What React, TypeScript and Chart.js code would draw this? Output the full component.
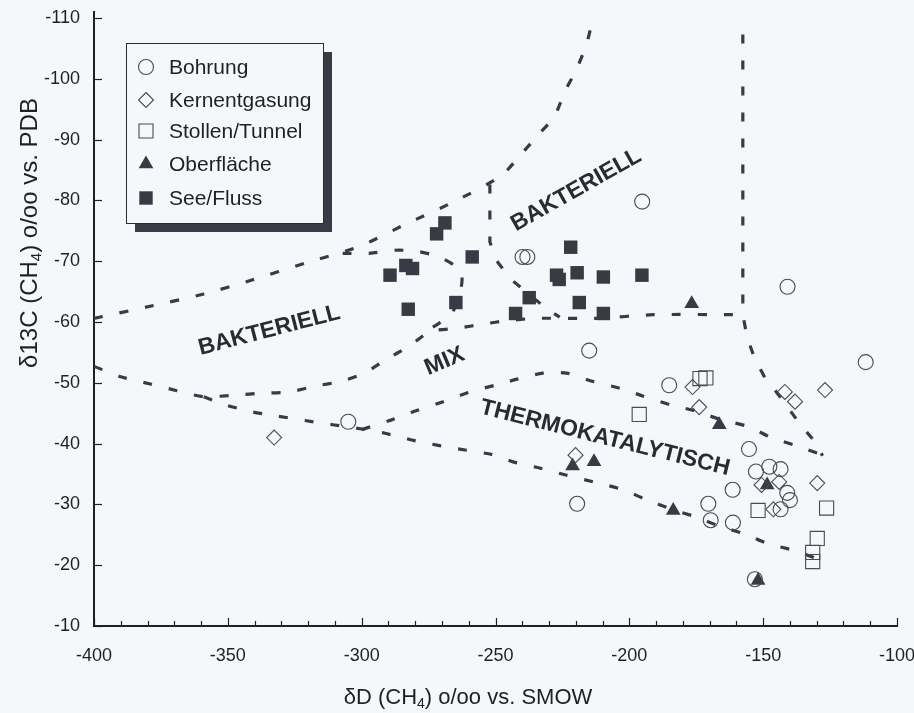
import React, { useEffect, useRef } from "react";
import { Chart, registerables } from "chart.js";

Chart.register(...registerables);

// ---------- axis ranges & ticks ----------
const X_MIN = -400;
const X_MAX = -100;
const Y_MIN = -110;
const Y_MAX = -10;
const X_STEP = 50;
const Y_STEP = 10;
const X_MINOR_STEP = 10;

// ---------- series ----------
const seriesNames = ["Bohrung", "Kernentgasung", "Stollen/Tunnel", "Oberfläche", "See/Fluss"];

const bohrung: [number, number][] = [
  [-195.2, -79.8], [-239.9, -70.7], [-238.1, -70.7], [-140.9, -65.8], [-111.7, -53.4],
  [-215.0, -55.3], [-185.1, -49.6], [-155.3, -39.1], [-152.7, -35.4], [-147.7, -36.2],
  [-143.5, -35.8], [-141.0, -31.9], [-140.0, -30.7], [-143.5, -29.2], [-161.4, -32.4],
  [-170.5, -30.1], [-169.6, -27.4], [-161.3, -27.0], [-219.5, -30.1], [-305.0, -43.6],
  [-153.1, -17.7],
];

const kernentgasung: [number, number][] = [
  [-332.7, -41.0], [-220.1, -38.1], [-176.4, -49.3], [-173.9, -46.0], [-141.9, -48.5],
  [-138.1, -46.9], [-126.9, -48.8], [-129.8, -33.5], [-150.6, -33.2], [-144.0, -33.7],
  [-146.2, -29.2],
];

const stollenTunnel: [number, number][] = [
  [-196.3, -44.8], [-173.6, -50.7], [-171.4, -50.8], [-151.9, -29.0], [-126.3, -29.4],
  [-129.8, -24.4], [-131.5, -22.1], [-131.5, -20.6],
];

const oberflaeche: [number, number][] = [
  [-176.7, -63.0], [-166.4, -43.1], [-221.2, -36.3], [-213.2, -37.0], [-183.6, -29.0],
  [-148.5, -33.2], [-151.9, -17.5],
];

const seeFluss: [number, number][] = [
  [-268.9, -76.3], [-272.0, -74.5], [-258.7, -70.7], [-283.5, -69.3], [-281.0, -68.8],
  [-289.4, -67.7], [-282.6, -62.1], [-264.8, -63.2], [-237.4, -64.0], [-242.5, -61.4],
  [-221.9, -72.3], [-227.2, -67.7], [-226.2, -67.0], [-219.5, -68.1], [-209.7, -67.4],
  [-195.3, -67.7], [-218.7, -63.2], [-209.7, -61.4],
];

// ---------- field boundaries (dashed) ----------
const bacterialUpper: [number, number][] = [
  [-400, -60.6], [-380, -62.5], [-359, -64.6], [-341, -66.9], [-321, -69.7], [-301, -72.4],
  [-284, -76], [-265, -79.9], [-248, -84], [-241, -87.3], [-234, -90.8], [-228, -93.8],
  [-224, -98], [-220, -101.3], [-216, -105.7], [-214, -109.2],
];

const bacterialDivider: [number, number][] = [
  [-252.1, -82.6], [-252.1, -73.2], [-249.8, -70.2], [-244.2, -67], [-230.4, -62], [-226, -60.8],
];

const innerLoop: [number, number][] = [
  [-307.1, -71.3], [-297.2, -71.3], [-287.6, -71.8], [-279.0, -71.6], [-270.1, -70.5],
  [-263.0, -68.3], [-263.0, -65.3], [-266.4, -61.4], [-273.9, -59.0],
];

const mixUpper: [number, number][] = [
  [-400, -52.7], [-390, -51], [-379, -49.8], [-369, -48.7], [-359, -47.7], [-347, -48],
  [-337, -48.3], [-327, -48.5], [-317, -49.5], [-308, -50.2], [-299, -51.6], [-291, -53.8],
  [-282, -56.1], [-274.5, -58.4], [-264, -59.0], [-254, -59.7], [-246, -60.2], [-235, -60.6],
  [-212, -60.6], [-191, -61.2], [-157.6, -61.2],
];

const rightBoundary: [number, number][] = [
  [-157.6, -107.3], [-157.6, -61.2], [-156, -57.5], [-153.1, -53.9], [-149.4, -50.9],
  [-143.7, -47.7], [-136.9, -43.6], [-130.7, -40.3], [-127.8, -38],
];

const thermoLower: [number, number][] = [
  [-359, -47.7], [-350.4, -46.3], [-340.7, -45.2], [-331.2, -44.5], [-321.2, -43.8],
  [-310.8, -43.1], [-300, -42.4], [-291.3, -41.7], [-281.3, -40.6], [-271.4, -39.7],
  [-260.8, -38.9], [-251.4, -38.2], [-243.4, -37], [-232.8, -35.9], [-223.4, -34.8],
  [-213.5, -33.7], [-202.9, -32.5], [-194.8, -31], [-183.6, -29.1], [-175.5, -28],
  [-166.2, -26.4], [-156, -25], [-148.1, -23.5], [-138.1, -22.4], [-127.8, -20.7],
];

const thermoUpper: [number, number][] = [
  [-300, -42.3], [-288.8, -43.9], [-279.7, -45.4], [-269.5, -46.9], [-260.2, -48.4],
  [-250.2, -49.6], [-241.9, -50.6], [-232.2, -51.6], [-223.4, -51.6], [-213.5, -50.2],
  [-203.5, -49.1], [-194.8, -47.8], [-184.8, -46.4], [-175.5, -45.4], [-166.2, -44],
  [-155.6, -42.8], [-147.5, -41.1], [-138.1, -39.7], [-128.2, -38.2],
];

// ---------- region labels ----------
const regionTexts = ["BAKTERIELL", "BAKTERIELL", "MIX", "THERMOKATALYTISCH"];
const regionX = [-334.5, -219.8, -269.0, -209.1];
const regionY = [-58.6, -81.7, -53.5, -40.9];
const regionAngle = [-14.5, -29.5, -23, 14];

// ---------- styles ----------
const BG = "#f5f8fb";
const INK = "#1f1f24";
const MARK = "#3a3a44";
const OPEN = "#4a4a50";
const DASH = "#3a3a46";
const FONT = "'Liberation Sans', Arial, Helvetica, sans-serif";

const toPts = (arr: [number, number][]) => arr.map(([x, y]) => ({ x, y }));

function lineDs(arr: [number, number][], tension: number) {
  return {
    type: "scatter" as const,
    label: "",
    data: toPts(arr),
    showLine: true,
    borderColor: DASH,
    borderWidth: 3.2,
    borderDash: [9, 17],
    borderCapStyle: "butt" as const,
    tension,
    pointRadius: 0,
    pointHoverRadius: 0,
    order: 5,
    fill: false,
  };
}

function drawMarker(ctx: CanvasRenderingContext2D, kind: number, x: number, y: number) {
  ctx.save();
  ctx.lineWidth = 1.1;
  ctx.strokeStyle = OPEN;
  ctx.fillStyle = MARK;
  ctx.beginPath();
  if (kind === 0) {
    ctx.arc(x, y, 7.5, 0, Math.PI * 2);
    ctx.stroke();
  } else if (kind === 1) {
    ctx.moveTo(x, y - 7.5);
    ctx.lineTo(x + 7.5, y);
    ctx.lineTo(x, y + 7.5);
    ctx.lineTo(x - 7.5, y);
    ctx.closePath();
    ctx.stroke();
  } else if (kind === 2) {
    ctx.rect(x - 7, y - 7, 14, 14);
    ctx.stroke();
  } else if (kind === 3) {
    const r = 8.5;
    ctx.moveTo(x, y - r);
    ctx.lineTo(x + r * 0.866, y + r * 0.5);
    ctx.lineTo(x - r * 0.866, y + r * 0.5);
    ctx.closePath();
    ctx.fill();
  } else {
    ctx.rect(x - 6.7, y - 6.7, 13.4, 13.4);
    ctx.fill();
  }
  ctx.restore();
}

type Part = { t: string; sub?: boolean };
function drawRich(ctx: CanvasRenderingContext2D, parts: Part[], cx: number, cy: number, rot: number, size: number) {
  ctx.save();
  ctx.translate(cx, cy);
  ctx.rotate(rot);
  const main = `${size}px ${FONT}`;
  const sub = `${Math.round(size * 0.62)}px ${FONT}`;
  let total = 0;
  const widths = parts.map((p) => {
    ctx.font = p.sub ? sub : main;
    const w = ctx.measureText(p.t).width;
    total += w;
    return w;
  });
  let x = -total / 2;
  ctx.textAlign = "left";
  ctx.textBaseline = "alphabetic";
  ctx.fillStyle = INK;
  parts.forEach((p, i) => {
    ctx.font = p.sub ? sub : main;
    ctx.fillText(p.t, x, size * 0.36 + (p.sub ? size * 0.2 : 0));
    x += widths[i];
  });
  ctx.restore();
}

const bgPlugin = {
  id: "bgFill",
  beforeDraw(chart: any) {
    const { ctx, width, height } = chart;
    ctx.save();
    ctx.fillStyle = BG;
    ctx.fillRect(0, 0, width, height);
    ctx.restore();
  },
};

const decorPlugin = {
  id: "decor",
  afterDatasetsDraw(chart: any) {
    const ctx: CanvasRenderingContext2D = chart.ctx;
    const xs = chart.scales.x;
    const ys = chart.scales.y;
    const area = chart.chartArea;

    // inward tick marks
    ctx.save();
    ctx.strokeStyle = INK;
    ctx.lineWidth = 1.2;
    for (let v = X_MIN; v <= X_MAX; v += X_MINOR_STEP) {
      const px = Math.round(xs.getPixelForValue(v)) + 0.5;
      const len = v % X_STEP === 0 ? 8 : 5;
      ctx.beginPath();
      ctx.moveTo(px, area.bottom);
      ctx.lineTo(px, area.bottom - len);
      ctx.stroke();
    }
    for (let v = Y_MIN; v <= Y_MAX; v += Y_STEP) {
      const py = Math.round(ys.getPixelForValue(v)) + 0.5;
      ctx.beginPath();
      ctx.moveTo(area.left, py);
      ctx.lineTo(area.left + 8, py);
      ctx.stroke();
    }
    // axis line reaches slightly above the top tick
    ctx.lineWidth = 2;
    ctx.beginPath();
    ctx.moveTo(area.left, area.top);
    ctx.lineTo(area.left, area.top - 7);
    ctx.stroke();
    ctx.restore();

    // region labels
    ctx.save();
    ctx.fillStyle = "#2a2a30";
    ctx.font = `bold 23px ${FONT}`;
    ctx.textAlign = "center";
    ctx.textBaseline = "middle";
    regionTexts.forEach((t, i) => {
      const px = xs.getPixelForValue(regionX[i]);
      const py = ys.getPixelForValue(regionY[i]);
      ctx.save();
      ctx.translate(px, py);
      ctx.rotate((regionAngle[i] * Math.PI) / 180);
      ctx.fillText(t, 0, 0);
      ctx.restore();
    });
    ctx.restore();
  },
  afterDraw(chart: any) {
    const ctx: CanvasRenderingContext2D = chart.ctx;

    // legend box with drop shadow
    const bx = 126, by = 43, bw = 197, bh = 180, sh = 9;
    ctx.save();
    ctx.fillStyle = "#3b3b45";
    ctx.fillRect(bx + sh, by + sh, bw, bh);
    ctx.fillStyle = BG;
    ctx.fillRect(bx, by, bw, bh);
    ctx.strokeStyle = "#2a2a30";
    ctx.lineWidth = 1;
    ctx.strokeRect(bx + 0.5, by + 0.5, bw, bh);
    ctx.font = `21px ${FONT}`;
    ctx.fillStyle = INK;
    ctx.textAlign = "left";
    ctx.textBaseline = "middle";
    const rows = [67, 100, 131, 164, 198];
    seriesNames.forEach((name, i) => {
      drawMarker(ctx, i, 146, rows[i]);
      ctx.fillText(name, 169, rows[i] + 1);
    });
    ctx.restore();

    // axis titles
    drawRich(
      ctx,
      [{ t: "δ13C (CH" }, { t: "4", sub: true }, { t: ") o/oo vs. PDB" }],
      28,
      233,
      -Math.PI / 2,
      24
    );
    drawRich(
      ctx,
      [{ t: "δD (CH" }, { t: "4", sub: true }, { t: ") o/oo vs. SMOW" }],
      468,
      696,
      0,
      22
    );
  },
};

export default function App() {
  const ref = useRef<HTMLCanvasElement>(null);

  useEffect(() => {
    if (!ref.current) return;
    const tickFont = { family: FONT, size: 18 };
    const chart = new Chart(ref.current, {
      type: "scatter",
      data: {
        datasets: [
          lineDs(bacterialUpper, 0.25),
          lineDs(bacterialDivider, 0),
          lineDs(innerLoop, 0.3),
          lineDs(mixUpper, 0.25),
          lineDs(rightBoundary, 0),
          lineDs(thermoLower, 0.2),
          lineDs(thermoUpper, 0.25),
          {
            label: seriesNames[0],
            data: toPts(bohrung),
            pointStyle: "circle",
            pointRadius: 7.5,
            pointBackgroundColor: "rgba(0,0,0,0)",
            pointBorderColor: OPEN,
            pointBorderWidth: 1.1,
            order: 1,
          },
          {
            label: seriesNames[1],
            data: toPts(kernentgasung),
            pointStyle: "rectRot",
            pointRadius: 7.5,
            pointBackgroundColor: "rgba(0,0,0,0)",
            pointBorderColor: OPEN,
            pointBorderWidth: 1.1,
            order: 1,
          },
          {
            label: seriesNames[2],
            data: toPts(stollenTunnel),
            pointStyle: "rect",
            pointRadius: 10,
            pointBackgroundColor: "rgba(0,0,0,0)",
            pointBorderColor: OPEN,
            pointBorderWidth: 1.1,
            order: 1,
          },
          {
            label: seriesNames[3],
            data: toPts(oberflaeche),
            pointStyle: "triangle",
            pointRadius: 8.5,
            pointBackgroundColor: MARK,
            pointBorderColor: MARK,
            pointBorderWidth: 0,
            order: 1,
          },
          {
            label: seriesNames[4],
            data: toPts(seeFluss),
            pointStyle: "rect",
            pointRadius: 9.5,
            pointBackgroundColor: MARK,
            pointBorderColor: MARK,
            pointBorderWidth: 0,
            order: 1,
          },
        ] as any,
      },
      options: {
        animation: false,
        responsive: false,
        devicePixelRatio: 1,
        events: [],
        layout: { padding: { top: 18, right: 17, left: 0, bottom: 0 } },
        plugins: {
          legend: { display: false },
          tooltip: { enabled: false },
          title: { display: false },
        },
        scales: {
          x: {
            type: "linear",
            min: X_MIN,
            max: X_MAX,
            grid: { display: false, drawTicks: false },
            border: { display: true, color: INK, width: 2 },
            ticks: { stepSize: X_STEP, font: tickFont, color: INK, padding: 19 },
            afterFit: (s: any) => {
              s.height = 87;
              s.paddingLeft = 0;
              s.paddingRight = 0;
            },
          },
          y: {
            type: "linear",
            min: Y_MIN,
            max: Y_MAX,
            reverse: true,
            grid: { display: false, drawTicks: false },
            border: { display: true, color: INK, width: 2 },
            ticks: { stepSize: Y_STEP, font: tickFont, color: INK, padding: 14 },
            afterFit: (s: any) => {
              s.width = 94;
              s.paddingTop = 0;
              s.paddingBottom = 0;
            },
          },
        },
      } as any,
      plugins: [bgPlugin, decorPlugin],
    });
    return () => chart.destroy();
  }, []);

  return (
    <div style={{ position: "fixed", left: 0, top: 0, width: 914, height: 713, background: BG }}>
      <canvas ref={ref} width={914} height={713} style={{ display: "block", width: 914, height: 713 }} />
    </div>
  );
}
